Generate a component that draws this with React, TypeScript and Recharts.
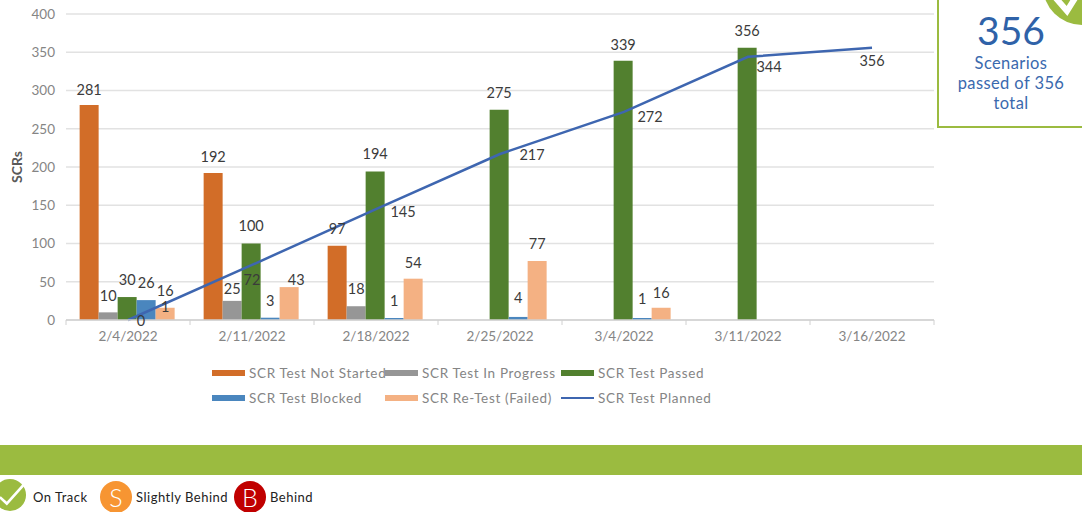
import React from 'react';
import { Bar, CartesianGrid, ComposedChart, LabelList, Legend, Line, XAxis, YAxis } from 'recharts';

const dates = ['2/4/2022', '2/11/2022', '2/18/2022', '2/25/2022', '3/4/2022', '3/11/2022', '3/16/2022'];
const notStarted = [281, 192, 97, null, null, null, null];
const inProgress = [10, 25, 18, null, null, null, null];
const passed = [30, 100, 194, 275, 339, 356, null];
const blocked = [26, 3, 1, 4, 1, null, null];
const reTest = [16, 43, 54, 77, 16, null, null];
const planned = [0, 72, 145, 217, 272, 344, 356];
// the original has a stray "1" sitting on the first re-test bar
const reTestStray = [1, null, null, null, null, null, null];
const yTicks = [0, 50, 100, 150, 200, 250, 300, 350, 400];

const data = dates.map((date, i) => ({
    date,
    notStarted: notStarted[i],
    inProgress: inProgress[i],
    passed: passed[i],
    blocked: blocked[i],
    reTest: reTest[i],
    reTestStray: reTestStray[i],
    planned: planned[i],
}));

const AXIS_GRAY = '#858585';
const FONT = 'Lato, sans-serif';
const BLUE_TEXT = '#3a69ae';
const OLIVE = '#9bbb40';

// hand placed labels in the original, so [dx, dy] per point from the anchor
const plannedOffsets = [[13, 6], [0, 20], [27, 8], [32, 6], [26, 10], [21, 15], [0, 18]];
const barOffsets = {
    notStarted: [[0, -10], [0, -11], [0, -12]],
    inProgress: [[0, -11], [0, -7], [0, -12]],
    passed: [[0, -12], [0, -13], [0, -13], [0, -12], [0, -11], [0, -12]],
    blocked: [[0, -12], [0, -12], [0, -12], [0, -14], [0, -14]],
    reTest: [[0, -12], [7, -2], [0, -11], [0, -12], [0, -10]],
    stray: [[0, 4]],
};

const renderLabel = (offsets: number[][]) => (props: any) => {
    const { value, index, viewBox } = props;
    if (value === null || value === undefined) return null;
    const box = viewBox ?? props;
    const [dx, dy] = offsets[index] ?? [0, 0];
    return (
        <text
            x={box.x + (box.width || 0) / 2 + dx}
            y={box.y + dy}
            textAnchor="middle"
            fontFamily={FONT}
            fontSize={14.5}
            fill="#3b3b3b"
        >
            {value}
        </text>
    );
};

const DateTick = ({ x, y, payload, index }: any) => (
    <g>
        <line x1={x - 62} x2={x - 62} y1={y - 8} y2={y - 3} stroke="#d0d0d0" />
        {index === dates.length - 1 && <line x1={x + 62} x2={x + 62} y1={y - 8} y2={y - 3} stroke="#d0d0d0" />}
        <text x={x} y={y + 13} textAnchor="middle" fontFamily={FONT} fontSize={13.5} fill={AXIS_GRAY}>
            {payload.value}
        </text>
    </g>
);

const LegendContent = ({ payload }: any) => (
    <div style={{ display: 'grid', gridTemplateColumns: '173px 176px 175px', gridAutoRows: '25px' }}>
        {(payload ?? []).map((entry: any) => (
            <div key={entry.value} style={{ display: 'flex', alignItems: 'center' }}>
                <span
                    style={{
                        width: 33,
                        height: entry.type === 'line' ? 2 : 6,
                        background: entry.color,
                        marginRight: 4,
                        flexShrink: 0,
                    }}
                />
                <span style={{ font: `13.5px ${FONT}`, color: AXIS_GRAY, whiteSpace: 'nowrap', letterSpacing: 0.65 }}>
                    {entry.value}
                </span>
            </div>
        ))}
    </div>
);

const StatusBadge = ({ left, color, letter }: { left: number; color: string; letter: string }) => (
    <div
        style={{
            position: 'absolute',
            left,
            top: 481,
            width: 32,
            height: 32,
            borderRadius: '50%',
            background: color,
            color: '#fff',
            font: `300 25px ${FONT}`,
            textAlign: 'center',
            lineHeight: '32px',
        }}
    >
        {letter}
    </div>
);

const StatusText = ({ left, children }: { left: number; children: React.ReactNode }) => (
    <div
        style={{
            position: 'absolute',
            left,
            top: 489,
            font: `13px ${FONT}`,
            letterSpacing: 0.5,
            color: '#222',
            whiteSpace: 'nowrap',
        }}
    >
        {children}
    </div>
);

export default function App() {
    return (
        <div style={{ position: 'absolute', left: 0, top: 0, width: 1082, height: 512, overflow: 'hidden', background: '#fff' }}>
            <ComposedChart
                width={1082}
                height={430}
                data={data}
                barCategoryGap="11%"
                barGap={0}
                margin={{ top: 14, right: 148, bottom: 80, left: 6 }}
            >
                <CartesianGrid vertical={false} stroke="#e2e2e2" strokeWidth={1.5} />
                <XAxis
                    dataKey="date"
                    height={30}
                    interval={0}
                    tickLine={false}
                    axisLine={{ stroke: '#d0d0d0', strokeWidth: 1.5 }}
                    tick={<DateTick />}
                />
                <YAxis
                    width={60}
                    domain={[0, 400]}
                    ticks={yTicks}
                    axisLine={false}
                    tickLine={false}
                    tickMargin={5}
                    tick={{ fill: AXIS_GRAY, fontSize: 13.5, fontFamily: FONT }}
                    label={{
                        value: 'SCRs',
                        angle: -90,
                        position: 'insideLeft',
                        offset: 11,
                        style: { fill: '#595959', fontSize: 14, fontWeight: 700, fontFamily: FONT, textAnchor: 'middle' },
                    }}
                />
                <Legend
                    layout="horizontal"
                    align="center"
                    verticalAlign="middle"
                    itemSorter={null}
                    wrapperStyle={{ left: 212, top: 360, width: 540 }}
                    content={<LegendContent />}
                />
                <Bar dataKey="notStarted" name="SCR Test Not Started" fill="#d26d28" isAnimationActive={false}>
                    <LabelList dataKey="notStarted" content={renderLabel(barOffsets.notStarted)} />
                </Bar>
                <Bar dataKey="inProgress" name="SCR Test In Progress" fill="#969696" isAnimationActive={false}>
                    <LabelList dataKey="inProgress" content={renderLabel(barOffsets.inProgress)} />
                </Bar>
                <Bar dataKey="passed" name="SCR Test Passed" fill="#52802f" isAnimationActive={false}>
                    <LabelList dataKey="passed" content={renderLabel(barOffsets.passed)} />
                </Bar>
                <Bar dataKey="blocked" name="SCR Test Blocked" fill="#4a86be" minPointSize={2} isAnimationActive={false}>
                    <LabelList dataKey="blocked" content={renderLabel(barOffsets.blocked)} />
                </Bar>
                <Bar dataKey="reTest" name="SCR Re-Test (Failed)" fill="#f4b183" isAnimationActive={false}>
                    <LabelList dataKey="reTest" content={renderLabel(barOffsets.reTest)} />
                    <LabelList dataKey="reTestStray" content={renderLabel(barOffsets.stray)} />
                </Bar>
                <Line
                    dataKey="planned"
                    name="SCR Test Planned"
                    type="linear"
                    stroke="#3e66b0"
                    strokeWidth={2.5}
                    dot={false}
                    isAnimationActive={false}
                >
                    <LabelList dataKey="planned" content={renderLabel(plannedOffsets)} />
                </Line>
            </ComposedChart>

            {/* callout box, runs off the top and right of the slide */}
            <div
                style={{
                    position: 'absolute',
                    left: 937,
                    top: -4,
                    width: 150,
                    height: 128,
                    border: `2px solid ${OLIVE}`,
                }}
            />
            <svg width={78} height={78} viewBox="0 0 78 78" style={{ position: 'absolute', left: 1043, top: -53 }}>
                <circle cx={39} cy={39} r={39} fill={OLIVE} />
                <path d="M11 49 L24 64 L39 40" fill="none" stroke="#fff" strokeWidth={6} />
            </svg>
            <div style={{ position: 'absolute', left: 940, top: 8, width: 142, textAlign: 'center', fontFamily: FONT, color: BLUE_TEXT }}>
                <div style={{ fontSize: 39, lineHeight: '44px', color: '#2f62a8' }}>356</div>
                <div style={{ fontSize: 16.5, letterSpacing: 0.4, lineHeight: '20px', marginTop: 1 }}>
                    Scenarios
                    <br />
                    passed of 356
                    <br />
                    total
                </div>
            </div>

            <div style={{ position: 'absolute', left: 0, top: 445, width: 1082, height: 30, background: OLIVE }} />
            <svg width={32} height={32} viewBox="0 0 30 30" style={{ position: 'absolute', left: -6, top: 479 }}>
                <circle cx={15} cy={15} r={15} fill={OLIVE} />
                <path d="M5.5 17 L12 23 L29 4" fill="none" stroke="#fff" strokeWidth={2.5} />
            </svg>
            <StatusText left={33}>On Track</StatusText>
            <StatusBadge left={100} color="#f79532" letter="S" />
            <StatusText left={136}>Slightly Behind</StatusText>
            <StatusBadge left={234} color="#c00000" letter="B" />
            <StatusText left={270}>Behind</StatusText>
        </div>
    );
}
